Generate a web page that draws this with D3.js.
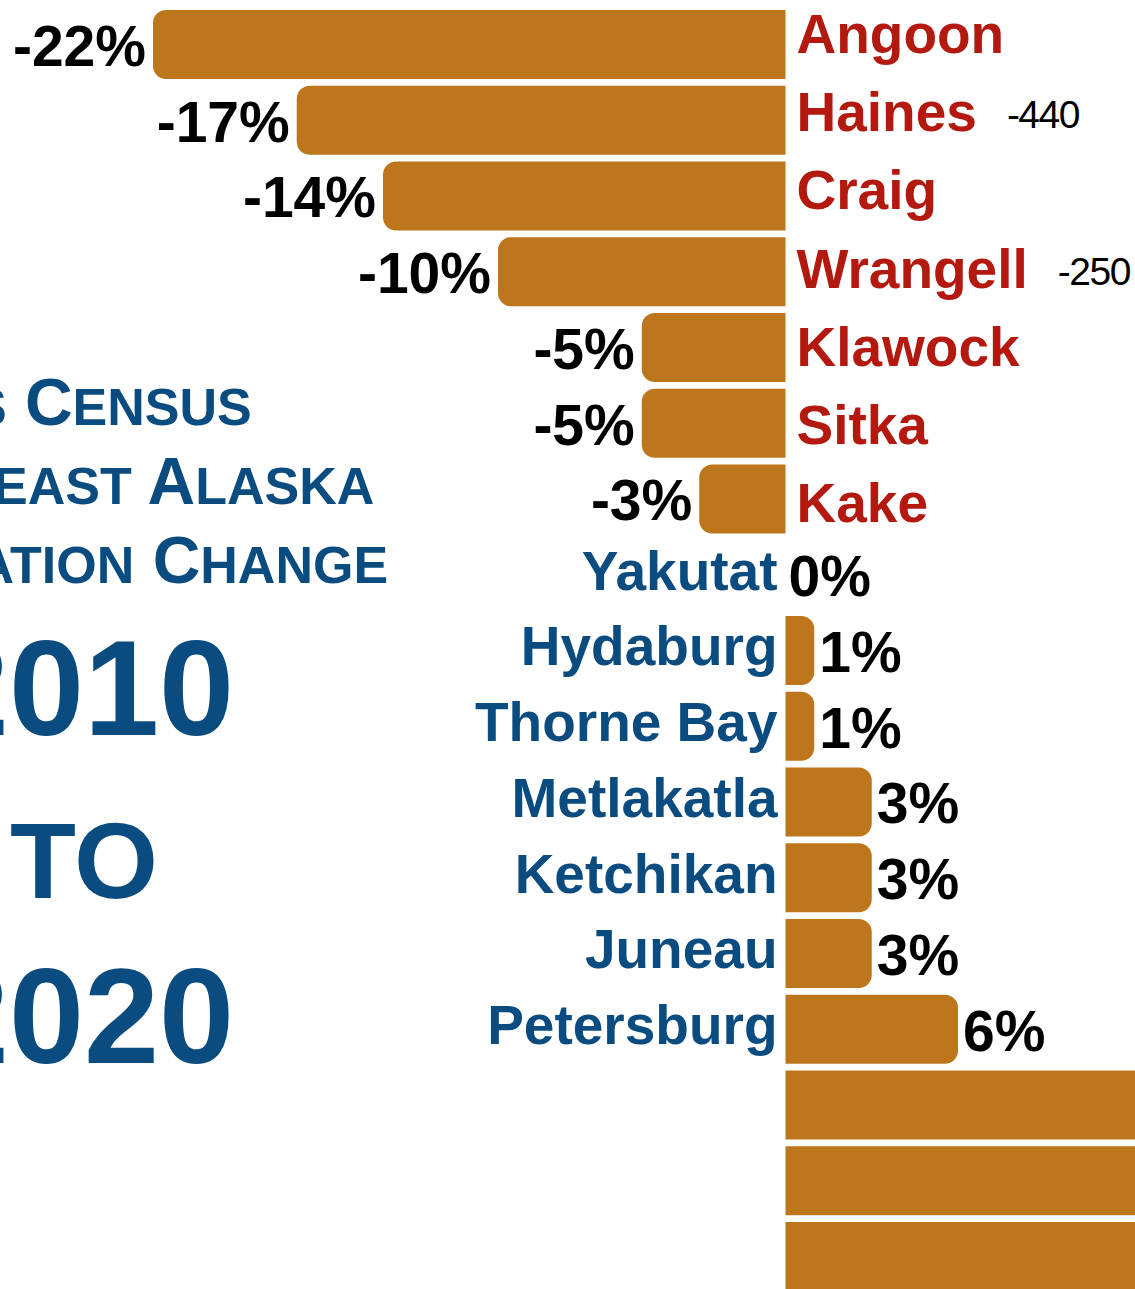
<!DOCTYPE html>
<html>
<head>
<meta charset="utf-8">
<script src="https://cdn.jsdelivr.net/npm/d3@7"></script>
<style>
  body { margin: 0; background: #fff; }
  svg { display: block; font-family: "Liberation Sans", Arial, Helvetica, sans-serif; }
</style>
</head>
<body>
<div id="chart"></div>
<script>
// datos: cambio de poblacion 2010-2020, sureste de Alaska
const towns = ["Angoon", "Haines", "Craig", "Wrangell", "Klawock", "Sitka", "Kake",
    "Yakutat", "Hydaburg", "Thorne Bay", "Metlakatla", "Ketchikan", "Juneau", "Petersburg",
    "Hoonah", "Skagway", "Gustavus"]
const pctChange = [-22, -17, -14, -10, -5, -5, -3, 0, 1, 1, 3, 3, 3, 6, 22, 27, 48]
const popChange = [null, -440, null, -250, null, null, null, null, null, null, null, null, null, null, null, null, null]

const titleLines = ["US Census", "Southeast Alaska", "Population Change"]
const titleYears = ["2010", "TO", "2020"]

const data = towns.map((t, i) => ({ town: t, pct: pctChange[i], pop: popChange[i] }))

// ----------------------------------------------------------
const width = 1135
const height = 1289
const barColor = "#BE761D"
const red = "#B3190F"
const blue = "#0B4C80"
const radius = 13

const svg = d3.select("div#chart").append("svg").attr("width", width).attr("height", height)
svg.append("rect").attr("width", width).attr("height", height).attr("fill", "#fff")

// escalas
const x = d3.scaleLinear().domain([-22, 6]).range([153, 958])
const step = 75.75
const y = d3.scaleBand().domain(towns)
    .range([6.6, 6.6 + towns.length * step])
    .paddingInner(0.09).paddingOuter(0.045)

// los nombres rojos llevan su propio espaciado
const losers = data.filter(d => d.pct < 0).map(d => d.town)
const redY = d3.scalePoint().domain(losers).range([53, 522])

const mid = d => y(d.town) + y.bandwidth() / 2

// barra con esquinas redondeadas solo en el extremo
function barPath(d) {
    const x0 = x(0), x1 = x(d.pct), top = y(d.town), h = y.bandwidth()
    const r = Math.min(radius, Math.abs(x1 - x0) / 2)
    const s = d.pct < 0 ? 1 : -1
    const p = d3.path()
    p.moveTo(x0, top)
    p.lineTo(x1 + s * r, top)
    p.arcTo(x1, top, x1, top + r, r)
    p.lineTo(x1, top + h - r)
    p.arcTo(x1, top + h, x1 + s * r, top + h, r)
    p.lineTo(x0, top + h)
    p.closePath()
    return p.toString()
}

const elementGroup = svg.append("g").attr("class", "elementGroup")

elementGroup.selectAll(".bar")
    .data(data.filter(d => d.pct !== 0))
    .enter()
    .append("path")
    .attr("class", "bar")
    .attr("d", barPath)
    .attr("fill", barColor)

// las barras que se salen del recorte no llevan etiquetas visibles
const labelled = data.filter(d => x(d.pct) < width)

// etiquetas de porcentaje
elementGroup.selectAll(".pct")
    .data(labelled)
    .enter()
    .append("text")
    .attr("class", "pct")
    .attr("x", d => d.pct < 0 ? x(d.pct) - 7 : x(d.pct) + (d.pct === 0 ? 3 : 5))
    .attr("y", d => mid(d) + 21.5)
    .attr("text-anchor", d => d.pct < 0 ? "end" : "start")
    .style("font-size", "57px")
    .style("font-weight", "bold")
    .attr("fill", "#000")
    .text(d => d.pct + "%")

// nombres: rojos a la derecha (bajan), azules a la izquierda (suben)
elementGroup.selectAll(".name")
    .data(labelled)
    .enter()
    .append("text")
    .attr("class", "name")
    .attr("x", d => d.pct < 0 ? x(0) + 11 : x(0) - 8)
    .attr("y", d => d.pct < 0 ? redY(d.town) : mid(d) + 15)
    .attr("text-anchor", d => d.pct < 0 ? "start" : "end")
    .style("font-size", "55px")
    .style("font-weight", "bold")
    .attr("fill", d => d.pct < 0 ? red : blue)
    .text(d => d.town)
    .each(function(d) {
        // numero de personas junto al nombre
        if (d.pop === null) return
        const w = this.getComputedTextLength()
        elementGroup.append("text")
            .attr("x", x(0) + 11 + w + 30)
            .attr("y", redY(d.town) - 3)
            .style("font-size", "39px")
            .style("letter-spacing", "-1.5px")
            .attr("fill", "#000")
            .text(d.pop)
    })

// titulo en versalitas
const titleG = svg.append("g").attr("class", "title").attr("fill", blue)
    .style("font-weight", "bold").attr("text-anchor", "middle")

titleLines.forEach((line, i) => {
    const t = titleG.append("text").attr("x", 88).attr("y", 425 + i * 79)
    line.split(" ").forEach((word, j) => {
        t.append("tspan").style("font-size", "66px").text((j > 0 ? " " : "") + word[0].toUpperCase())
        t.append("tspan").style("font-size", "52px").text(word.slice(1).toUpperCase())
    })
})

titleG.selectAll(".year")
    .data(titleYears)
    .enter()
    .append("text")
    .attr("class", "year")
    .attr("x", 84)
    .attr("y", (d, i) => [735, 898, 1063][i])
    .style("font-size", (d, i) => i === 1 ? "108px" : "135px")
    .text(d => d)
</script>
</body>
</html>
